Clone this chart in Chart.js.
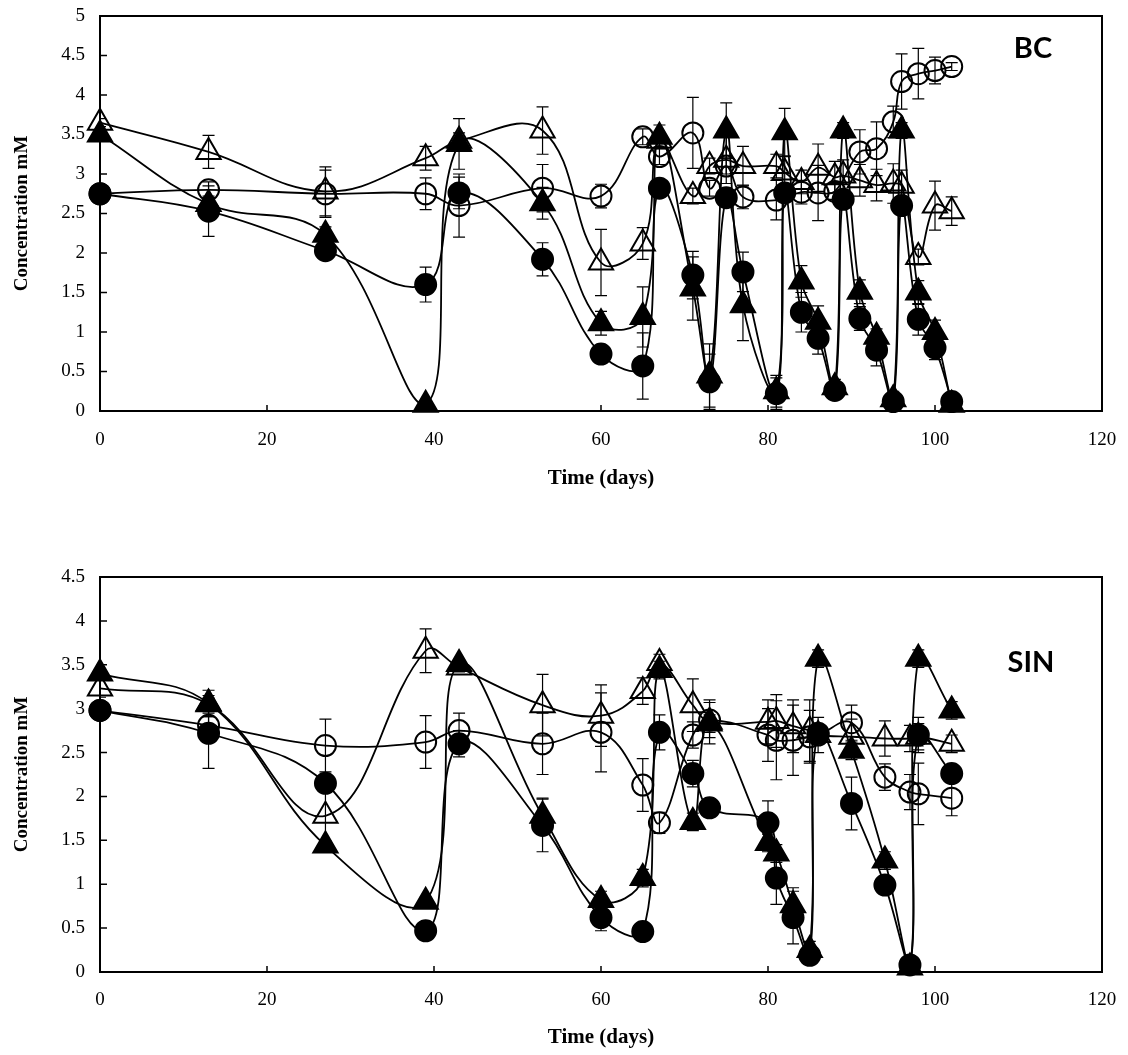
<!DOCTYPE html>
<html>
<head>
<meta charset="utf-8">
<script src="https://cdn.jsdelivr.net/npm/chart.js@4.4.0/dist/chart.umd.min.js"></script>
<style>
    body { margin: 0; background: #fff; }
    #wrap { position: relative; width: 1128px; height: 1055px; }
    canvas { position: absolute; left: 0; }
</style>
</head>
<body>
<div id="wrap">
    <canvas id="bcChart" width="1128" height="520" style="top:0"></canvas>
    <canvas id="sinChart" width="1128" height="535" style="top:520px"></canvas>
</div>
<script>
// ---- BC panel ----
var bcOpenCircleDays = [0, 13, 27, 39, 43, 53, 60, 65, 67, 71, 73, 75, 77, 81, 84, 86, 88, 91, 93, 95, 96, 98, 100, 102];
var bcOpenCircle     = [2.75, 2.8, 2.75, 2.75, 2.6, 2.82, 2.72, 3.47, 3.22, 3.52, 2.82, 3.1, 2.71, 2.67, 2.77, 2.76, 2.78, 3.28, 3.32, 3.66, 4.17, 4.27, 4.31, 4.36];
var bcOpenCircleErr  = [0.05, 0.1, 0.3, 0.2, 0.4, 0.3, 0.15, 0.1, 0.1, 0.45, 0.1, 0.1, 0.15, 0.25, 0.15, 0.35, 0.1, 0.28, 0.34, 0.2, 0.35, 0.32, 0.17, 0.05];

var bcDays = [0, 13, 27, 39, 43, 53, 60, 65, 67, 71, 73, 75, 77, 81, 82, 84, 86, 88, 89, 91, 93, 95, 96, 98, 100, 102];
var bcFilledCircle    = [2.75, 2.53, 2.03, 1.6, 2.76, 1.92, 0.72, 0.57, 2.82, 1.72, 0.37, 2.7, 1.76, 0.22, 2.76, 1.25, 0.92, 0.26, 2.68, 1.17, 0.77, 0.12, 2.6, 1.16, 0.8, 0.12];
var bcFilledCircleErr = [0.05, 0.32, 0.1, 0.22, 0.2, 0.21, 0.1, 0.42, 0.1, 0.3, 0.35, 0.1, 0.25, 0.2, 0.1, 0.25, 0.2, 0.1, 0.1, 0.15, 0.2, 0.1, 0.1, 0.2, 0.15, 0.1];
var bcOpenTriangle    = [3.65, 3.28, 2.78, 3.2, 3.42, 3.55, 1.88, 2.12, 3.42, 2.72, 3.1, 3.18, 3.1, 3.1, 3.02, 2.9, 3.08, 2.96, 2.98, 2.92, 2.86, 2.88, 2.85, 1.95, 2.6, 2.53];
var bcOpenTriangleErr = [0.05, 0.21, 0.31, 0.15, 0.1, 0.3, 0.42, 0.2, 0.1, 0.1, 0.1, 0.3, 0.25, 0.15, 0.2, 0.15, 0.3, 0.2, 0.2, 0.2, 0.2, 0.25, 0.2, 0.1, 0.31, 0.18];
var bcFilledTriangle    = [3.5, 2.62, 2.23, 0.08, 3.38, 2.63, 1.11, 1.19, 3.47, 1.55, 0.45, 3.55, 1.34, 0.25, 3.53, 1.64, 1.13, 0.3, 3.55, 1.51, 0.94, 0.15, 3.55, 1.5, 1.0, 0.08];
var bcFilledTriangleErr = [0.05, 0.1, 0.1, 0.05, 0.32, 0.2, 0.15, 0.38, 0.15, 0.4, 0.4, 0.35, 0.45, 0.2, 0.3, 0.2, 0.2, 0.1, 0.1, 0.15, 0.1, 0.1, 0.1, 0.15, 0.15, 0.1];

// ---- SIN panel ----
var sinDays = [0, 13, 27, 39, 43, 53, 60, 65, 67, 71, 73, 80, 81, 83, 85, 86, 90, 94, 97, 98, 102];
var sinOpenCircle    = [2.98, 2.81, 2.58, 2.62, 2.75, 2.6, 2.73, 2.13, 1.7, 2.7, 2.87, 2.7, 2.64, 2.64, 2.68, 2.7, 2.84, 2.22, 2.05, 2.03, 1.98];
var sinOpenCircleErr = [0.05, 0.1, 0.3, 0.3, 0.2, 0.35, 0.45, 0.3, 0.12, 0.15, 0.2, 0.3, 0.45, 0.4, 0.3, 0.2, 0.2, 0.15, 0.2, 0.35, 0.2];
var sinFilledCircle    = [2.98, 2.72, 2.15, 0.47, 2.6, 1.67, 0.62, 0.46, 2.73, 2.26, 1.87, 1.7, 1.07, 0.62, 0.19, 2.72, 1.92, 0.99, 0.08, 2.7, 2.26];
var sinFilledCircleErr = [0.05, 0.4, 0.1, 0.1, 0.15, 0.3, 0.15, 0.1, 0.2, 0.15, 0.1, 0.25, 0.3, 0.3, 0.1, 0.1, 0.3, 0.1, 0.1, 0.2, 0.1];
var sinOpenTriangle    = [3.23, 3.05, 1.78, 3.66, 3.47, 3.04, 2.92, 3.2, 3.52, 3.04, 2.85, 2.85, 2.86, 2.8, 2.75, 2.7, 2.68, 2.66, 2.66, 2.68, 2.6];
var sinOpenTriangleErr = [0.1, 0.1, 0.3, 0.25, 0.05, 0.35, 0.35, 0.15, 0.1, 0.3, 0.25, 0.25, 0.3, 0.3, 0.35, 0.1, 0.2, 0.2, 0.15, 0.15, 0.1];
var sinFilledTriangle    = [3.4, 3.06, 1.44, 0.8, 3.51, 1.78, 0.82, 1.07, 3.44, 1.71, 2.83, 1.47, 1.35, 0.76, 0.25, 3.57, 2.52, 1.27, 0.05, 3.57, 2.98];
var sinFilledTriangleErr = [0.05, 0.15, 0.05, 0.05, 0.05, 0.2, 0.1, 0.1, 0.1, 0.1, 0.1, 0.1, 0.1, 0.2, 0.1, 0.1, 0.1, 0.1, 0.05, 0.1, 0.1];

var xTicks = [0, 20, 40, 60, 80, 100, 120];

function toPoints(days, vals, errs) {
    return days.map((d, i) => ({ x: d, y: vals[i], e: errs[i] }));
}

function series(label, data, style, filled) {
    return {
        label: label,
        data: data,
        showLine: true,
        tension: 0.4,
        clip: 20,
        borderColor: '#000',
        borderWidth: 1.8,
        pointStyle: style,
        pointRadius: style === 'triangle' ? 14 : 10.5,
        pointBorderWidth: 2,
        pointBorderColor: '#000',
        pointBackgroundColor: filled ? '#000' : 'rgba(0,0,0,0)'
    };
}

// error bars + box frame + inward ticks
var decorations = {
    id: 'decorations',
    beforeDatasetsDraw(chart) {
        const { ctx, chartArea: a, scales: { x, y } } = chart;
        ctx.save();
        ctx.beginPath();
        ctx.rect(a.left, a.top, a.right - a.left, a.bottom - a.top);
        ctx.clip();
        ctx.strokeStyle = '#000';
        ctx.lineWidth = 1.2;
        chart.data.datasets.forEach(ds => {
            ds.data.forEach(p => {
                const px = x.getPixelForValue(p.x);
                const t = y.getPixelForValue(p.y + p.e);
                const b = y.getPixelForValue(p.y - p.e);
                ctx.beginPath();
                ctx.moveTo(px, t); ctx.lineTo(px, b);
                ctx.moveTo(px - 6, t); ctx.lineTo(px + 6, t);
                ctx.moveTo(px - 6, b); ctx.lineTo(px + 6, b);
                ctx.stroke();
            });
        });
        ctx.restore();

        ctx.save();
        ctx.strokeStyle = '#000';
        ctx.lineWidth = 2;
        ctx.strokeRect(a.left, a.top, a.right - a.left, a.bottom - a.top);
        ctx.lineWidth = 1.5;
        ctx.beginPath();
        x.ticks.forEach(tk => {
            const px = x.getPixelForValue(tk.value);
            ctx.moveTo(px, a.bottom); ctx.lineTo(px, a.bottom - 6);
        });
        y.ticks.forEach(tk => {
            const py = y.getPixelForValue(tk.value);
            ctx.moveTo(a.left, py); ctx.lineTo(a.left + 7, py);
        });
        ctx.stroke();
        ctx.restore();
    },
    afterDraw(chart, args, opts) {
        const { ctx, chartArea: a } = chart;
        ctx.save();
        ctx.fillStyle = '#000';
        ctx.font = 'bold 29px Lato, "Liberation Sans", sans-serif';
        ctx.textAlign = 'center';
        ctx.textBaseline = 'middle';
        ctx.fillText(opts.text, a.left + opts.dx, a.top + opts.dy);
        ctx.restore();
    }
};

// tick label offsets come from hidden tick marks so the auto edge padding stays small
function makeChart(id, datasets, yMax, panel, padTop, xAxisHeight, tickGap, titlePad, labelPos) {
    return new Chart(document.getElementById(id), {
        type: 'scatter',
        data: { datasets: datasets },
        plugins: [decorations],
        options: {
            responsive: false,
            animation: false,
            layout: { autoPadding: false, padding: { left: 0, right: 26, top: padTop, bottom: 0 } },
            plugins: {
                legend: { display: false },
                tooltip: { enabled: false },
                decorations: { text: panel, dx: labelPos[0], dy: labelPos[1] }
            },
            scales: {
                x: {
                    type: 'linear',
                    min: 0,
                    max: 120,
                    afterBuildTicks: axis => { axis.ticks = xTicks.map(v => ({ value: v })); },
                    afterFit: axis => { axis.height = xAxisHeight; },
                    grid: { display: false, drawTicks: true, tickLength: tickGap - 2 },
                    border: { display: false },
                    ticks: {
                        padding: 2,
                        maxRotation: 0,
                        color: '#000',
                        font: { family: '"Liberation Serif", "Times New Roman", serif', size: 19 }
                    },
                    title: {
                        display: true,
                        text: 'Time (days)',
                        color: '#000',
                        padding: { top: 0, bottom: titlePad },
                        font: { family: '"Liberation Serif", "Times New Roman", serif', size: 21, weight: 'bold' }
                    }
                },
                y: {
                    min: 0,
                    max: yMax,
                    afterFit: axis => { axis.width = 100; },
                    grid: { display: false, drawTicks: true, tickLength: 13 },
                    border: { display: false },
                    ticks: {
                        stepSize: 0.5,
                        padding: 2,
                        color: '#000',
                        callback: v => String(Math.round(v * 10) / 10),
                        font: { family: '"Liberation Serif", "Times New Roman", serif', size: 19 }
                    },
                    title: {
                        display: true,
                        text: 'Concentration mM',
                        color: '#000',
                        padding: { top: 11, bottom: 0 },
                        font: { family: '"Liberation Serif", "Times New Roman", serif', size: 19, weight: 'bold' }
                    }
                }
            }
        }
    });
}

makeChart('bcChart', [
    series('Open circle', toPoints(bcOpenCircleDays, bcOpenCircle, bcOpenCircleErr), 'circle', false),
    series('Filled circle', toPoints(bcDays, bcFilledCircle, bcFilledCircleErr), 'circle', true),
    series('Open triangle', toPoints(bcDays, bcOpenTriangle, bcOpenTriangleErr), 'triangle', false),
    series('Filled triangle', toPoints(bcDays, bcFilledTriangle, bcFilledTriangleErr), 'triangle', true)
], 5, 'BC', 16, 109, 18, 29, [933, 33]);

makeChart('sinChart', [
    series('Open circle', toPoints(sinDays, sinOpenCircle, sinOpenCircleErr), 'circle', false),
    series('Filled circle', toPoints(sinDays, sinFilledCircle, sinFilledCircleErr), 'circle', true),
    series('Open triangle', toPoints(sinDays, sinOpenTriangle, sinOpenTriangleErr), 'triangle', false),
    series('Filled triangle', toPoints(sinDays, sinFilledTriangle, sinFilledTriangleErr), 'triangle', true)
], 4.5, 'SIN', 57, 83, 17, 5, [931, 86]);
</script>
</body>
</html>
